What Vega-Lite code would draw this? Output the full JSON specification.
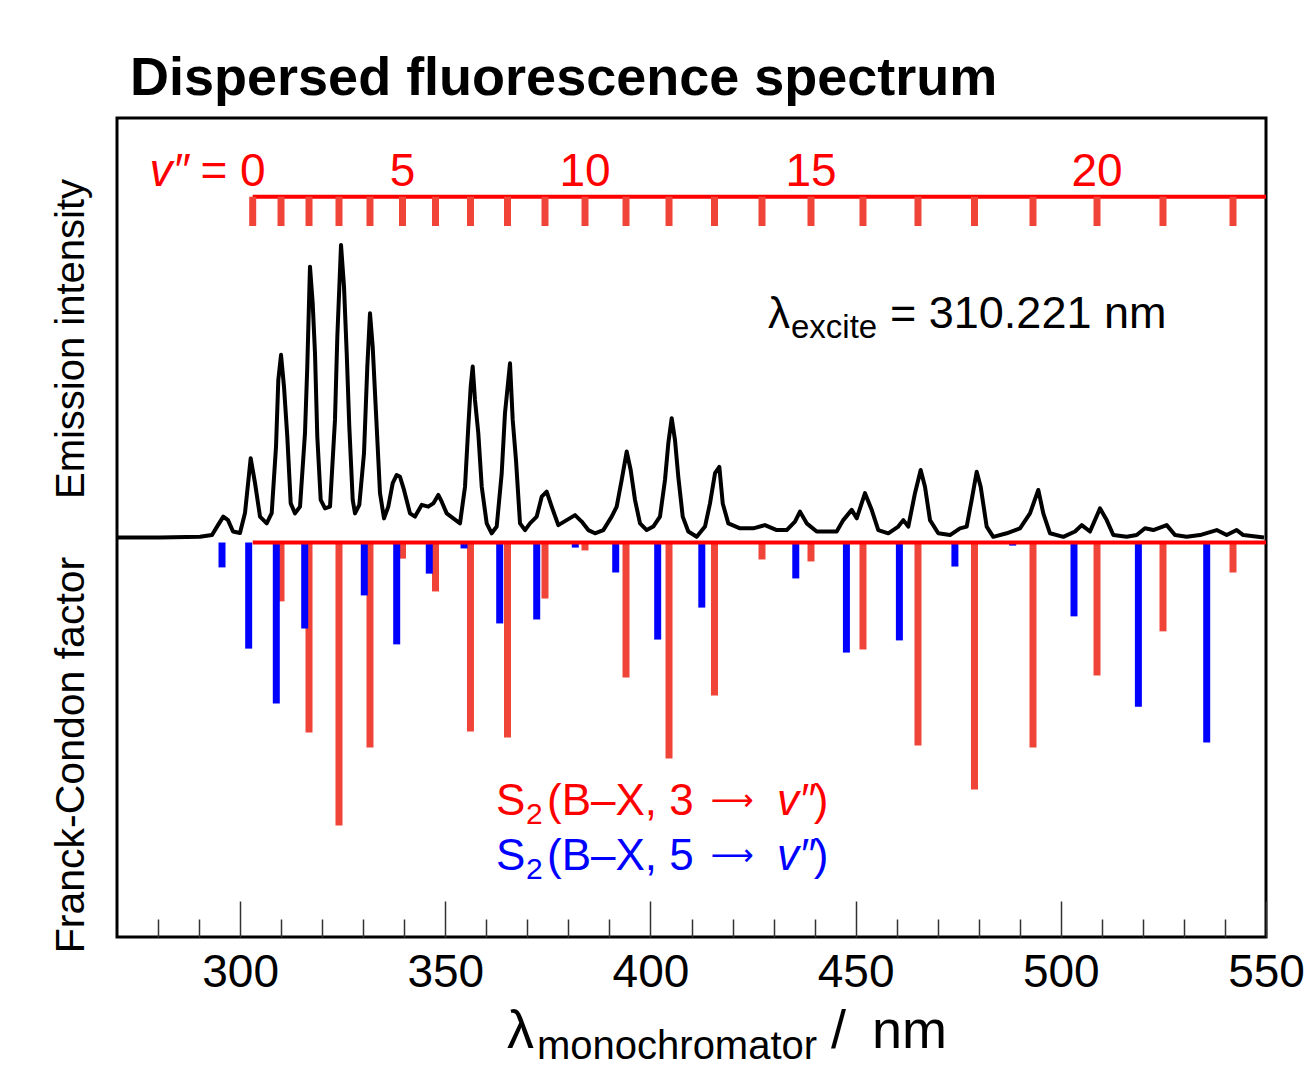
{
  "$schema": "https://vega.github.io/schema/vega-lite/v6.json",
  "width": 1149,
  "height": 819,
  "autosize": {"type": "none"},
  "padding": {"left": 117, "top": 118, "right": 43, "bottom": 130},
  "background": "white",
  "config": {
    "view": {"stroke": "black", "strokeWidth": 3},
    "font": "Liberation Sans",
    "text": {"font": "Liberation Sans"}
  },
  "datasets": {
    "spec": [
      {"nm": 270.0, "I": 0.002}, {"nm": 280.48, "I": 0.002}, {"nm": 290.23, "I": 0.004}, {"nm": 293.15, "I": 0.010},
      {"nm": 294.61, "I": 0.044}, {"nm": 295.90, "I": 0.073}, {"nm": 297.05, "I": 0.061}, {"nm": 298.27, "I": 0.022},
      {"nm": 299.97, "I": 0.017}, {"nm": 301.19, "I": 0.085}, {"nm": 302.58, "I": 0.272}, {"nm": 303.63, "I": 0.188},
      {"nm": 304.85, "I": 0.073}, {"nm": 306.48, "I": 0.050}, {"nm": 307.70, "I": 0.085}, {"nm": 308.75, "I": 0.312},
      {"nm": 309.31, "I": 0.539}, {"nm": 309.97, "I": 0.625}, {"nm": 310.70, "I": 0.516}, {"nm": 311.50, "I": 0.346},
      {"nm": 312.33, "I": 0.118}, {"nm": 313.38, "I": 0.084}, {"nm": 314.60, "I": 0.107}, {"nm": 315.81, "I": 0.358},
      {"nm": 316.37, "I": 0.585}, {"nm": 317.03, "I": 0.926}, {"nm": 317.69, "I": 0.801}, {"nm": 318.25, "I": 0.630},
      {"nm": 318.81, "I": 0.346}, {"nm": 319.64, "I": 0.130}, {"nm": 320.69, "I": 0.101}, {"nm": 321.91, "I": 0.107},
      {"nm": 323.12, "I": 0.403}, {"nm": 323.69, "I": 0.687}, {"nm": 324.59, "I": 1.000}, {"nm": 325.32, "I": 0.858},
      {"nm": 325.98, "I": 0.630}, {"nm": 326.61, "I": 0.380}, {"nm": 327.44, "I": 0.130}, {"nm": 328.00, "I": 0.084},
      {"nm": 329.05, "I": 0.113}, {"nm": 330.19, "I": 0.289}, {"nm": 331.00, "I": 0.585}, {"nm": 331.65, "I": 0.767},
      {"nm": 332.31, "I": 0.653}, {"nm": 333.12, "I": 0.426}, {"nm": 334.09, "I": 0.153}, {"nm": 335.07, "I": 0.067},
      {"nm": 336.11, "I": 0.107}, {"nm": 337.19, "I": 0.187}, {"nm": 338.16, "I": 0.215}, {"nm": 338.96, "I": 0.209},
      {"nm": 339.94, "I": 0.164}, {"nm": 341.40, "I": 0.084}, {"nm": 342.62, "I": 0.073}, {"nm": 344.25, "I": 0.113},
      {"nm": 345.86, "I": 0.107}, {"nm": 347.08, "I": 0.118}, {"nm": 348.30, "I": 0.147}, {"nm": 349.13, "I": 0.124},
      {"nm": 350.34, "I": 0.084}, {"nm": 351.95, "I": 0.067}, {"nm": 353.59, "I": 0.050}, {"nm": 354.81, "I": 0.175},
      {"nm": 355.61, "I": 0.380}, {"nm": 356.19, "I": 0.516}, {"nm": 356.68, "I": 0.585}, {"nm": 357.24, "I": 0.471},
      {"nm": 358.05, "I": 0.357}, {"nm": 358.88, "I": 0.175}, {"nm": 360.09, "I": 0.050}, {"nm": 361.31, "I": 0.016},
      {"nm": 362.53, "I": 0.039}, {"nm": 363.75, "I": 0.221}, {"nm": 364.55, "I": 0.426}, {"nm": 365.77, "I": 0.596},
      {"nm": 366.43, "I": 0.403}, {"nm": 367.23, "I": 0.266}, {"nm": 368.21, "I": 0.050}, {"nm": 369.43, "I": 0.027},
      {"nm": 370.64, "I": 0.050}, {"nm": 372.28, "I": 0.073}, {"nm": 373.50, "I": 0.141}, {"nm": 374.71, "I": 0.158},
      {"nm": 375.93, "I": 0.107}, {"nm": 377.54, "I": 0.044}, {"nm": 379.59, "I": 0.061}, {"nm": 381.61, "I": 0.078},
      {"nm": 383.24, "I": 0.056}, {"nm": 384.85, "I": 0.027}, {"nm": 386.48, "I": 0.016}, {"nm": 388.51, "I": 0.027},
      {"nm": 390.55, "I": 0.073}, {"nm": 391.77, "I": 0.107}, {"nm": 392.99, "I": 0.198}, {"nm": 394.21, "I": 0.295},
      {"nm": 395.18, "I": 0.232}, {"nm": 396.23, "I": 0.130}, {"nm": 397.45, "I": 0.050}, {"nm": 399.08, "I": 0.027},
      {"nm": 400.69, "I": 0.039}, {"nm": 402.32, "I": 0.073}, {"nm": 403.54, "I": 0.198}, {"nm": 404.35, "I": 0.323},
      {"nm": 405.17, "I": 0.409}, {"nm": 405.98, "I": 0.334}, {"nm": 406.78, "I": 0.209}, {"nm": 407.86, "I": 0.073},
      {"nm": 409.22, "I": 0.022}, {"nm": 411.27, "I": 0.004}, {"nm": 413.29, "I": 0.039}, {"nm": 414.51, "I": 0.118},
      {"nm": 415.73, "I": 0.221}, {"nm": 416.78, "I": 0.243}, {"nm": 417.61, "I": 0.118}, {"nm": 418.97, "I": 0.050},
      {"nm": 421.82, "I": 0.033}, {"nm": 425.06, "I": 0.033}, {"nm": 427.91, "I": 0.044}, {"nm": 430.76, "I": 0.027},
      {"nm": 433.20, "I": 0.027}, {"nm": 435.22, "I": 0.056}, {"nm": 436.44, "I": 0.090}, {"nm": 438.07, "I": 0.050},
      {"nm": 440.51, "I": 0.022}, {"nm": 442.94, "I": 0.022}, {"nm": 445.38, "I": 0.022}, {"nm": 446.99, "I": 0.061},
      {"nm": 449.04, "I": 0.096}, {"nm": 450.26, "I": 0.067}, {"nm": 452.28, "I": 0.153}, {"nm": 453.91, "I": 0.096},
      {"nm": 455.52, "I": 0.027}, {"nm": 457.96, "I": 0.016}, {"nm": 460.39, "I": 0.039}, {"nm": 461.61, "I": 0.061},
      {"nm": 462.83, "I": 0.039}, {"nm": 464.46, "I": 0.153}, {"nm": 465.85, "I": 0.232}, {"nm": 466.90, "I": 0.175},
      {"nm": 468.12, "I": 0.061}, {"nm": 470.14, "I": 0.016}, {"nm": 472.99, "I": 0.010}, {"nm": 475.43, "I": 0.033},
      {"nm": 477.06, "I": 0.039}, {"nm": 478.28, "I": 0.130}, {"nm": 479.50, "I": 0.226}, {"nm": 480.47, "I": 0.175},
      {"nm": 481.93, "I": 0.039}, {"nm": 483.54, "I": 0.004}, {"nm": 486.81, "I": 0.016}, {"nm": 490.05, "I": 0.033},
      {"nm": 492.49, "I": 0.084}, {"nm": 494.51, "I": 0.164}, {"nm": 495.73, "I": 0.084}, {"nm": 497.36, "I": 0.016},
      {"nm": 500.60, "I": 0.004}, {"nm": 503.46, "I": 0.022}, {"nm": 505.09, "I": 0.044}, {"nm": 507.11, "I": 0.022},
      {"nm": 509.55, "I": 0.101}, {"nm": 511.18, "I": 0.061}, {"nm": 512.79, "I": 0.010}, {"nm": 516.05, "I": 0.004},
      {"nm": 518.49, "I": 0.010}, {"nm": 520.51, "I": 0.033}, {"nm": 522.53, "I": 0.027}, {"nm": 525.80, "I": 0.044},
      {"nm": 527.82, "I": 0.010}, {"nm": 530.67, "I": 0.004}, {"nm": 533.91, "I": 0.010}, {"nm": 537.98, "I": 0.027},
      {"nm": 540.42, "I": 0.010}, {"nm": 542.86, "I": 0.027}, {"nm": 544.47, "I": 0.010}, {"nm": 549.51, "I": 0.002}
    ],
    "red": [
      {"v": 0, "nm": 303.07, "fc": 0.0}, {"v": 1, "nm": 309.97, "fc": 0.208}, {"v": 2, "nm": 316.79, "fc": 0.671},
      {"v": 3, "nm": 324.10, "fc": 1.0}, {"v": 4, "nm": 331.65, "fc": 0.724}, {"v": 5, "nm": 339.57, "fc": 0.057},
      {"v": 6, "nm": 347.61, "fc": 0.173}, {"v": 7, "nm": 356.14, "fc": 0.668}, {"v": 8, "nm": 365.16, "fc": 0.689},
      {"v": 9, "nm": 374.30, "fc": 0.198}, {"v": 10, "nm": 384.05, "fc": 0.028}, {"v": 11, "nm": 394.04, "fc": 0.477},
      {"v": 12, "nm": 404.52, "fc": 0.763}, {"v": 13, "nm": 415.60, "fc": 0.541}, {"v": 14, "nm": 427.18, "fc": 0.060},
      {"v": 15, "nm": 439.12, "fc": 0.067}, {"v": 16, "nm": 451.79, "fc": 0.378}, {"v": 17, "nm": 465.19, "fc": 0.717},
      {"v": 18, "nm": 478.96, "fc": 0.873}, {"v": 19, "nm": 493.22, "fc": 0.724}, {"v": 20, "nm": 508.82, "fc": 0.470},
      {"v": 21, "nm": 524.90, "fc": 0.314}, {"v": 22, "nm": 541.96, "fc": 0.106}
    ],
    "blue": [
      {"nm": 295.59, "fc": 0.088}, {"nm": 302.09, "fc": 0.375}, {"nm": 308.82, "fc": 0.569}, {"nm": 315.74, "fc": 0.304},
      {"nm": 330.26, "fc": 0.187}, {"nm": 338.16, "fc": 0.360}, {"nm": 346.10, "fc": 0.110}, {"nm": 354.56, "fc": 0.021},
      {"nm": 363.26, "fc": 0.286}, {"nm": 372.28, "fc": 0.272}, {"nm": 381.68, "fc": 0.018}, {"nm": 391.53, "fc": 0.106},
      {"nm": 401.76, "fc": 0.343}, {"nm": 412.51, "fc": 0.230}, {"nm": 435.41, "fc": 0.127}, {"nm": 447.75, "fc": 0.389},
      {"nm": 460.66, "fc": 0.346}, {"nm": 474.19, "fc": 0.085}, {"nm": 488.27, "fc": 0.011}, {"nm": 503.21, "fc": 0.261},
      {"nm": 518.90, "fc": 0.580}, {"nm": 535.55, "fc": 0.707}
    ]
  },
  "layer": [
    {
      "layer": [
        {
          "data": {"name": "spec"},
          "mark": {"type": "line", "color": "black", "strokeWidth": 4, "strokeJoin": "round"},
          "encoding": {
            "x": {"field": "nm", "type": "quantitative",
                  "scale": {"domain": [270, 550], "nice": false, "zero": false},
                  "axis": {"orient": "bottom", "values": [300, 350, 400, 450, 500, 550], "tickSize": -36, "tickWidth": 1.5, "tickColor": "#333",
                           "domain": false, "grid": false, "title": null, "labelFont": "Liberation Sans", "labelFontSize": 46,
                           "labelColor": "black", "labelPadding": 49, "labelFlush": false, "labelOverlap": false}},
            "y": {"field": "I", "type": "quantitative",
                  "scale": {"domain": [-1.3618, 1.4334], "nice": false, "zero": false}, "axis": null}
          }
        },
        {
          "data": {"values": [{}]},
          "mark": {"type": "rule", "color": "#FF0000", "strokeWidth": 4},
          "encoding": {
            "x": {"datum": 303.07, "type": "quantitative"},
            "x2": {"datum": 550},
            "y": {"datum": 1.1648, "type": "quantitative", "axis": null}
          }
        },
        {
          "data": {"name": "red"},
          "mark": {"type": "rule", "color": "#F04438", "strokeWidth": 7},
          "encoding": {
            "x": {"field": "nm", "type": "quantitative"},
            "y": {"datum": 1.1648, "type": "quantitative", "axis": null},
            "y2": {"datum": 1.0648}
          }
        },
        {
          "data": {"name": "red"},
          "transform": [{"filter": "datum.v % 5 == 0"}],
          "mark": {"type": "text", "color": "#FF0000", "fontSize": 46, "align": "center", "baseline": "alphabetic"},
          "encoding": {
            "x": {"field": "nm", "type": "quantitative"},
            "y": {"datum": 1.2014, "type": "quantitative", "axis": null},
            "text": {"field": "v", "type": "nominal"}
          }
        },
        {
          "data": {"values": [{}]},
          "mark": {"type": "text", "text": "v″", "color": "#FF0000", "fontSize": 46, "fontStyle": "italic", "align": "right", "baseline": "alphabetic"},
          "encoding": {"x": {"datum": 287.5, "type": "quantitative"}, "y": {"datum": 1.2014, "type": "quantitative", "axis": null}}
        },
        {
          "data": {"values": [{}]},
          "mark": {"type": "text", "text": "=", "color": "#FF0000", "fontSize": 46, "align": "center", "baseline": "alphabetic"},
          "encoding": {"x": {"datum": 293.64, "type": "quantitative"}, "y": {"datum": 1.2014, "type": "quantitative", "axis": null}}
        },
        {
          "data": {"values": [{}]},
          "mark": {"type": "text", "text": "Dispersed fluorescence spectrum", "color": "black", "fontSize": 54, "fontWeight": "bold", "align": "left", "baseline": "alphabetic"},
          "encoding": {"x": {"datum": 273.17, "type": "quantitative"}, "y": {"datum": 1.5119, "type": "quantitative", "axis": null}}
        },
        {
          "data": {"values": [{}]},
          "mark": {"type": "text", "text": "Emission intensity", "color": "black", "fontSize": 40, "angle": 270, "align": "center", "baseline": "middle"},
          "encoding": {"x": {"datum": 259.03, "type": "quantitative"}, "y": {"datum": 0.6792, "type": "quantitative", "axis": null}}
        },
        {
          "data": {"values": [{}]},
          "mark": {"type": "text", "text": "Franck-Condon factor", "color": "black", "fontSize": 41, "angle": 270, "align": "center", "baseline": "middle"},
          "encoding": {"x": {"datum": 259.03, "type": "quantitative"}, "y": {"datum": -0.7406, "type": "quantitative", "axis": null}}
        },
        {
          "data": {"values": [{}]},
          "mark": {"type": "text", "text": "λ", "color": "black", "fontSize": 54, "align": "left", "baseline": "alphabetic"},
          "encoding": {"x": {"datum": 365.04, "type": "quantitative"}, "y": {"datum": -1.7406, "type": "quantitative", "axis": null}}
        },
        {
          "data": {"values": [{}]},
          "mark": {"type": "text", "text": "monochromator", "color": "black", "fontSize": 40, "align": "left", "baseline": "alphabetic"},
          "encoding": {"x": {"datum": 372.35, "type": "quantitative"}, "y": {"datum": -1.7782, "type": "quantitative", "axis": null}}
        },
        {
          "data": {"values": [{}]},
          "mark": {"type": "text", "text": "/", "color": "black", "fontSize": 54, "align": "left", "baseline": "alphabetic"},
          "encoding": {"x": {"datum": 444.0, "type": "quantitative"}, "y": {"datum": -1.7406, "type": "quantitative", "axis": null}}
        },
        {
          "data": {"values": [{}]},
          "mark": {"type": "text", "text": "nm", "color": "black", "fontSize": 54, "align": "left", "baseline": "alphabetic"},
          "encoding": {"x": {"datum": 453.99, "type": "quantitative"}, "y": {"datum": -1.7406, "type": "quantitative", "axis": null}}
        },
        {
          "data": {"values": [{}]},
          "mark": {"type": "text", "text": "λ", "color": "black", "fontSize": 44, "align": "left", "baseline": "alphabetic"},
          "encoding": {"x": {"datum": 428.64, "type": "quantitative"}, "y": {"datum": 0.7167, "type": "quantitative", "axis": null}}
        },
        {
          "data": {"values": [{}]},
          "mark": {"type": "text", "text": "excite", "color": "black", "fontSize": 33, "align": "left", "baseline": "alphabetic"},
          "encoding": {"x": {"datum": 434.25, "type": "quantitative"}, "y": {"datum": 0.6826, "type": "quantitative", "axis": null}}
        },
        {
          "data": {"values": [{}]},
          "mark": {"type": "text", "text": "= 310.221 nm", "color": "black", "fontSize": 45, "align": "left", "baseline": "alphabetic"},
          "encoding": {"x": {"datum": 458.37, "type": "quantitative"}, "y": {"datum": 0.7167, "type": "quantitative", "axis": null}}
        },
        {
          "data": {"values": [{}]},
          "mark": {"type": "text", "text": "S", "color": "#FF0000", "fontSize": 44, "align": "left", "baseline": "alphabetic"},
          "encoding": {"x": {"datum": 362.36, "type": "quantitative"}, "y": {"datum": -0.9454, "type": "quantitative", "axis": null}}
        },
        {
          "data": {"values": [{}]},
          "mark": {"type": "text", "text": "2", "color": "#FF0000", "fontSize": 30, "align": "left", "baseline": "alphabetic"},
          "encoding": {"x": {"datum": 369.67, "type": "quantitative"}, "y": {"datum": -0.9761, "type": "quantitative", "axis": null}}
        },
        {
          "data": {"values": [{}]},
          "mark": {"type": "text", "text": "(B–X, 3", "color": "#FF0000", "fontSize": 44, "align": "left", "baseline": "alphabetic"},
          "encoding": {"x": {"datum": 374.79, "type": "quantitative"}, "y": {"datum": -0.9454, "type": "quantitative", "axis": null}}
        },
        {
          "data": {"values": [{}]},
          "mark": {"type": "text", "text": "⟶", "font": "DejaVu Sans", "color": "#FF0000", "fontSize": 30, "align": "center", "baseline": "middle"},
          "encoding": {"x": {"datum": 419.87, "type": "quantitative"}, "y": {"datum": -0.8976, "type": "quantitative", "axis": null}}
        },
        {
          "data": {"values": [{}]},
          "mark": {"type": "text", "text": "v″", "color": "#FF0000", "fontSize": 44, "fontStyle": "italic", "align": "left", "baseline": "alphabetic"},
          "encoding": {"x": {"datum": 430.84, "type": "quantitative"}, "y": {"datum": -0.9454, "type": "quantitative", "axis": null}}
        },
        {
          "data": {"values": [{}]},
          "mark": {"type": "text", "text": ")", "color": "#FF0000", "fontSize": 44, "align": "left", "baseline": "alphabetic"},
          "encoding": {"x": {"datum": 439.8, "type": "quantitative"}, "y": {"datum": -0.9454, "type": "quantitative", "axis": null}}
        },
        {
          "data": {"values": [{}]},
          "mark": {"type": "text", "text": "S", "color": "#0000FF", "fontSize": 44, "align": "left", "baseline": "alphabetic"},
          "encoding": {"x": {"datum": 362.36, "type": "quantitative"}, "y": {"datum": -1.1331, "type": "quantitative", "axis": null}}
        },
        {
          "data": {"values": [{}]},
          "mark": {"type": "text", "text": "2", "color": "#0000FF", "fontSize": 30, "align": "left", "baseline": "alphabetic"},
          "encoding": {"x": {"datum": 369.67, "type": "quantitative"}, "y": {"datum": -1.1638, "type": "quantitative", "axis": null}}
        },
        {
          "data": {"values": [{}]},
          "mark": {"type": "text", "text": "(B–X, 5", "color": "#0000FF", "fontSize": 44, "align": "left", "baseline": "alphabetic"},
          "encoding": {"x": {"datum": 374.79, "type": "quantitative"}, "y": {"datum": -1.1331, "type": "quantitative", "axis": null}}
        },
        {
          "data": {"values": [{}]},
          "mark": {"type": "text", "text": "⟶", "font": "DejaVu Sans", "color": "#0000FF", "fontSize": 30, "align": "center", "baseline": "middle"},
          "encoding": {"x": {"datum": 419.87, "type": "quantitative"}, "y": {"datum": -1.0853, "type": "quantitative", "axis": null}}
        },
        {
          "data": {"values": [{}]},
          "mark": {"type": "text", "text": "v″", "color": "#0000FF", "fontSize": 44, "fontStyle": "italic", "align": "left", "baseline": "alphabetic"},
          "encoding": {"x": {"datum": 430.84, "type": "quantitative"}, "y": {"datum": -1.1331, "type": "quantitative", "axis": null}}
        },
        {
          "data": {"values": [{}]},
          "mark": {"type": "text", "text": ")", "color": "#0000FF", "fontSize": 44, "align": "left", "baseline": "alphabetic"},
          "encoding": {"x": {"datum": 439.8, "type": "quantitative"}, "y": {"datum": -1.1331, "type": "quantitative", "axis": null}}
        }
      ]
    },
    {
      "layer": [
        {
          "data": {"name": "red"},
          "mark": {"type": "rule", "color": "#F04438", "strokeWidth": 7},
          "encoding": {
            "x": {"field": "nm", "type": "quantitative",
                  "scale": {"domain": [270, 550], "nice": false, "zero": false},
                  "axis": {"orient": "bottom", "values": [280, 290, 310, 320, 330, 340, 360, 370, 380, 390, 410, 420, 430, 440, 460, 470, 480, 490, 510, 520, 530, 540],
                           "tickSize": -18, "tickWidth": 1.5, "tickColor": "#333", "labels": false, "domain": false, "grid": false, "title": null}},
            "y": {"field": "fc", "type": "quantitative",
                  "scale": {"domain": [-1.5, 1.394], "reverse": true, "nice": false, "zero": false}, "axis": null},
            "y2": {"datum": 0}
          }
        },
        {
          "data": {"name": "blue"},
          "mark": {"type": "rule", "color": "#0000FF", "strokeWidth": 7},
          "encoding": {
            "x": {"field": "nm", "type": "quantitative"},
            "y": {"field": "fc", "type": "quantitative", "axis": null},
            "y2": {"datum": 0}
          }
        },
        {
          "data": {"values": [{}]},
          "mark": {"type": "rule", "color": "#FF0000", "strokeWidth": 4},
          "encoding": {
            "x": {"datum": 303.07, "type": "quantitative"},
            "x2": {"datum": 550},
            "y": {"datum": 0, "type": "quantitative", "axis": null}
          }
        }
      ]
    }
  ],
  "resolve": {"scale": {"y": "independent"}, "axis": {"x": "independent"}}
}
